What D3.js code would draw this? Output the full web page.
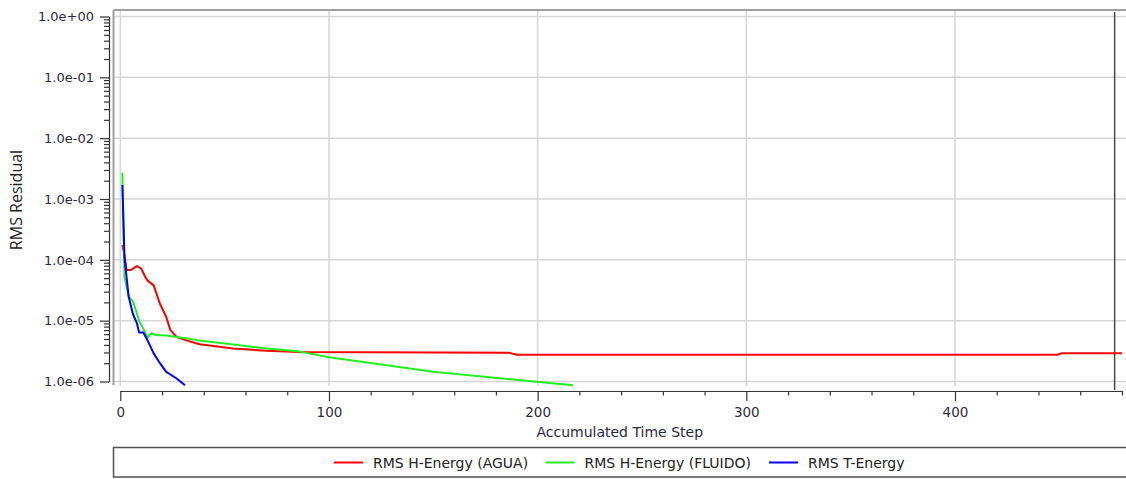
<!DOCTYPE html>
<html>
<head>
<meta charset="utf-8">
<script src="https://cdn.jsdelivr.net/npm/d3@7"></script>
<style>
  body { margin: 0; background: #fff; }
  svg { display: block; }
</style>
</head>
<body>
<svg id="chart" width="1126" height="479"></svg>
<script>
// RMS residual history (log scale)

const aguaSteps  = [1, 2, 3, 5, 8, 10, 12, 13, 16, 19, 22, 24, 27, 32, 38, 54, 70, 86, 186, 190, 449, 451, 480];
const aguaValues = [1.75e-4, 1.2e-4, 6.8e-5, 6.8e-5, 7.9e-5, 7.2e-5, 5.2e-5, 4.6e-5, 3.8e-5, 1.9e-5, 1.15e-5, 7.0e-6,
                    5.4e-6, 4.7e-6, 4.1e-6, 3.5e-6, 3.2e-6, 3.05e-6, 2.98e-6, 2.76e-6, 2.76e-6, 2.9e-6, 2.9e-6];

const fluidoSteps  = [1, 2, 4, 6, 8, 9, 11, 13, 15, 17, 22, 32, 38, 70, 86, 100, 150, 198, 217];
const fluidoValues = [2.7e-3, 5.2e-5, 2.5e-5, 2.1e-5, 1.3e-5, 1.0e-5, 7.4e-6, 5.3e-6, 6.2e-6, 5.8e-6, 5.7e-6,
                      5.1e-6, 4.7e-6, 3.5e-6, 3.1e-6, 2.5e-6, 1.45e-6, 1.0e-6, 8.7e-7];

const tSteps  = [1, 2, 3, 4, 6, 8, 9, 11, 13, 16, 19, 22, 27, 31];
const tValues = [1.7e-3, 1.1e-4, 5.2e-5, 2.5e-5, 1.3e-5, 9.0e-6, 6.4e-6, 6.4e-6, 4.8e-6, 2.9e-6, 2.0e-6, 1.44e-6, 1.12e-6, 8.7e-7];

const seriesNames  = ['RMS H-Energy (AGUA)', 'RMS H-Energy (FLUIDO)', 'RMS T-Energy'];
const seriesColors = ['#ff0000', '#22ee22', '#0000ff'];

const xMajorTicks = [0, 100, 200, 300, 400];
const yDecades = [1e0, 1e-1, 1e-2, 1e-3, 1e-4, 1e-5, 1e-6];
const yTickLabels = ['1.0e+00', '1.0e-01', '1.0e-02', '1.0e-03', '1.0e-04', '1.0e-05', '1.0e-06'];

const currentStep = 476.5;

const svg = d3.select('#chart');
const width = 1126, height = 479;

svg.append('rect').attr('width', width).attr('height', height).attr('fill', '#fff');

const x = d3.scaleLinear().domain([0, 400]).range([120.3, 955]);
const y = d3.scaleLog().domain([1e-6, 1]).range([381.5, 16.5]);

const plot = { left: 113.5, top: 10, right: width, bottom: 390 };

// Gridlines
const grid = svg.append('g').attr('class', 'grid');
grid.selectAll('.hgrid')
    .data(yDecades)
    .enter()
    .append('line')
    .attr('x1', plot.left)
    .attr('x2', plot.right)
    .attr('y1', d => y(d))
    .attr('y2', d => y(d))
    .attr('stroke', '#d6d6d6')
    .attr('stroke-width', 1.5);

grid.selectAll('.vgrid')
    .data(xMajorTicks)
    .enter()
    .append('line')
    .attr('x1', d => x(d))
    .attr('x2', d => x(d))
    .attr('y1', plot.top)
    .attr('y2', 386)
    .attr('stroke', '#d6d6d6')
    .attr('stroke-width', 1.5);

// Plot frame (top and left edges)
svg.append('line')
    .attr('x1', plot.left).attr('x2', plot.right)
    .attr('y1', plot.top).attr('y2', plot.top)
    .attr('stroke', '#a0a0a0').attr('stroke-width', 2);
svg.append('line')
    .attr('x1', plot.left).attr('x2', plot.left)
    .attr('y1', plot.top).attr('y2', 385)
    .attr('stroke', '#a0a0a0').attr('stroke-width', 2);

// Current time step marker
svg.append('line')
    .attr('x1', x(currentStep)).attr('x2', x(currentStep))
    .attr('y1', 12).attr('y2', plot.bottom)
    .attr('stroke', '#4a4a4a').attr('stroke-width', 1.5);

// Series
const series = [
    { steps: aguaSteps, values: aguaValues },
    { steps: fluidoSteps, values: fluidoValues },
    { steps: tSteps, values: tValues }
];

const line = d3.line()
    .x(d => x(d[0]))
    .y(d => y(d[1]));

series.forEach((s, i) => {
    svg.append('path')
        .datum(s.steps.map((st, k) => [st, s.values[k]]))
        .attr('fill', 'none')
        .attr('stroke', seriesColors[i])
        .attr('stroke-width', 2)
        .attr('stroke-linejoin', 'round')
        .attr('d', line);
});

const textColor = '#2b2b3c';
const tickFont = '"DejaVu Sans", Verdana, sans-serif';

// Y axis
const yTicks = [];
yDecades.slice(1).forEach(dec => {
    for (let m = 1; m <= 9; m++) yTicks.push(dec * m);
});
yTicks.push(1);

const yAxis = d3.axisLeft(y)
    .tickValues(yTicks)
    .tickSizeOuter(0)
    .tickFormat(d => {
        const idx = yDecades.findIndex(v => Math.abs(v - d) / v < 1e-9);
        return idx >= 0 ? yTickLabels[idx] : '';
    });

const yG = svg.append('g')
    .attr('transform', 'translate(109,0)')
    .call(yAxis);
yG.select('.domain').attr('stroke', '#333').attr('stroke-width', 1.2);
yG.selectAll('.tick line')
    .attr('stroke', '#333')
    .attr('stroke-width', 1.2)
    .attr('x2', d => yDecades.some(v => Math.abs(v - d) / v < 1e-9) ? -9 : -5);
yG.selectAll('.tick text')
    .attr('x', -15)
    .attr('fill', textColor)
    .attr('font-family', tickFont)
    .attr('font-size', '13px');

// X axis
const xAxisScale = d3.scaleLinear().domain([0, 480]).range([x(0), x(480)]);
const xAxis = d3.axisBottom(xAxisScale)
    .tickValues(d3.range(0, 481, 20))
    .tickSizeOuter(0)
    .tickFormat(d => xMajorTicks.includes(d) ? d : '');

const xG = svg.append('g')
    .attr('transform', 'translate(0,391)')
    .call(xAxis);
xG.select('.domain').attr('stroke', '#333').attr('stroke-width', 1.2);
xG.selectAll('.tick line')
    .attr('stroke', '#333')
    .attr('stroke-width', 1.2)
    .attr('y2', d => d % 100 === 0 ? 10 : 4.5);
xG.selectAll('.tick text')
    .attr('y', 16)
    .attr('fill', textColor)
    .attr('font-family', tickFont)
    .attr('font-size', '13.5px');

// Axis titles
svg.append('text')
    .attr('x', (plot.left + plot.right) / 2)
    .attr('y', 437)
    .attr('text-anchor', 'middle')
    .attr('fill', textColor)
    .attr('font-family', tickFont)
    .attr('font-size', '14px')
    .text('Accumulated Time Step');

svg.append('text')
    .attr('transform', 'translate(22,200) rotate(-90)')
    .attr('text-anchor', 'middle')
    .attr('fill', '#222')
    .attr('font-family', '"Open Sans", "Noto Sans", sans-serif')
    .attr('font-size', '16px')
    .text('RMS Residual');

// Legend
const legend = svg.append('g').attr('class', 'legend');
legend.append('rect')
    .attr('x', 113.5)
    .attr('y', 447.5)
    .attr('width', 1030)
    .attr('height', 29.5)
    .attr('fill', '#fff')
    .attr('stroke', '#505050')
    .attr('stroke-width', 1.5);

const legendX = [334, 545.5, 769];
const legendItems = legend.selectAll('.legend-item')
    .data(seriesNames)
    .enter()
    .append('g')
    .attr('class', 'legend-item')
    .attr('transform', (d, i) => `translate(${legendX[i]}, 462.5)`);

legendItems.append('line')
    .attr('x1', 0).attr('x2', 29)
    .attr('y1', 0).attr('y2', 0)
    .attr('stroke', (d, i) => seriesColors[i])
    .attr('stroke-width', 2);

legendItems.append('text')
    .attr('x', 39)
    .attr('y', 5)
    .attr('fill', '#222')
    .attr('font-family', tickFont)
    .attr('font-size', '14px')
    .text(d => d);
</script>
</body>
</html>
